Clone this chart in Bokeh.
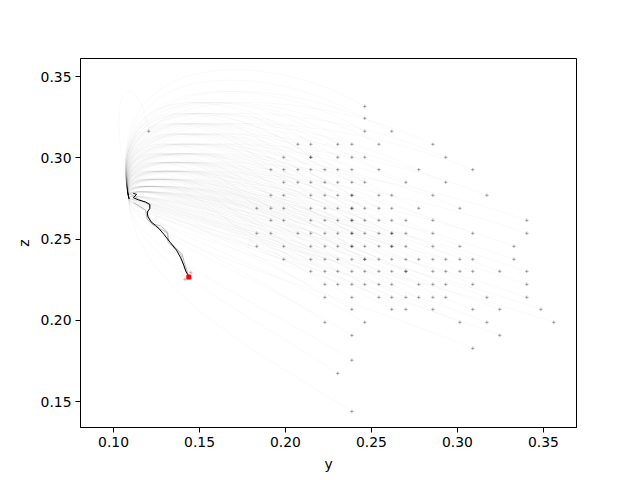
from bokeh.plotting import figure
from bokeh.embed import file_html
from bokeh.resources import INLINE
from bokeh.models import FixedTicker, CustomJSTickFormatter

# grid of start points (column y-values, row z-values)
grid_y = [0.1833, 0.1915, 0.1990, 0.2072, 0.2147, 0.2229, 0.2304, 0.2386, 0.2461,
          0.2543, 0.2618, 0.2700, 0.2775, 0.2857, 0.2932, 0.3014, 0.3089, 0.3171,
          0.3246, 0.3328, 0.3403, 0.3485, 0.3560]
grid_z = [0.3316, 0.3243, 0.3163, 0.3083, 0.3003, 0.2927, 0.2849, 0.2769, 0.2689,
          0.2615, 0.2535, 0.2455, 0.2375, 0.2301, 0.2221, 0.2141, 0.2067, 0.1987,
          0.1907, 0.1827]
row_cols = [
    [8], [8], [8, 10], [3, 4, 6, 7, 9, 13], [2, 4, 4, 6, 7, 8, 14],
    [1, 2, 3, 4, 5, 6, 7, 9, 12, 16], [2, 3, 4, 5, 6, 7, 8, 11, 14],
    [1, 2, 4, 5, 6, 7, 7, 9, 10, 13, 17], [0, 1, 2, 4, 5, 6, 7, 7, 8, 9, 10, 12, 15],
    [1, 2, 4, 5, 6, 7, 7, 8, 9, 10, 11, 13, 20],
    [0, 1, 3, 4, 5, 6, 7, 7, 8, 9, 10, 10, 11, 13, 16, 20],
    [0, 2, 4, 5, 6, 7, 7, 8, 9, 10, 10, 11, 13, 15, 19],
    [2, 4, 5, 6, 7, 8, 8, 9, 10, 11, 12, 13, 14, 15, 16, 19],
    [4, 5, 6, 7, 8, 9, 10, 11, 11, 13, 14, 15, 16, 18, 20],
    [5, 6, 7, 8, 9, 10, 12, 13, 14, 16, 20], [5, 7, 9, 10, 11, 12, 13, 14, 17, 20],
    [7, 10, 11, 13, 16, 18, 21], [5, 8, 15, 17, 22], [7, 18], [16],
]
extra_y = [0.1205, 0.2386, 0.2304, 0.2386]
extra_z = [0.3163, 0.1754, 0.1673, 0.1439]

# converged end of the trajectories
end_y, end_z = 0.1090, 0.2750

# final settled path (black) and two earlier passes (grey)
path_y = [0.1115, 0.1134, 0.1115, 0.1147, 0.1186, 0.1211, 0.1211, 0.1196, 0.1200, 0.1219,
          0.1244, 0.1264, 0.1293, 0.1331, 0.1366, 0.1390, 0.1409, 0.1420, 0.1436]
path_z = [0.2781, 0.2775, 0.2754, 0.2740, 0.2728, 0.2713, 0.2687, 0.2666, 0.2637, 0.2605,
          0.2584, 0.2564, 0.2529, 0.2477, 0.2432, 0.2385, 0.2338, 0.2303, 0.2272]
grey1_y = [0.1118, 0.1186, 0.1196, 0.1234, 0.1312, 0.1322, 0.1351, 0.1399, 0.1409, 0.1428, 0.1436]
grey1_z = [0.2723, 0.2678, 0.2621, 0.2584, 0.2539, 0.2488, 0.2457, 0.2406, 0.2365, 0.2303, 0.2272]
grey2_y = [0.1099, 0.1147, 0.1215, 0.1196, 0.1225, 0.1273, 0.1316, 0.1316, 0.1390, 0.1409, 0.1436]
grey2_z = [0.2777, 0.2746, 0.2705, 0.2654, 0.2592, 0.2582, 0.2541, 0.2480, 0.2408, 0.2330, 0.2272]

final_y, final_z = [0.1438], [0.2266]
near_y = [0.1450, 0.1415]
near_z = [0.2295, 0.2252]

x_ticks = [0.10, 0.15, 0.20, 0.25, 0.30, 0.35]
y_ticks = [0.15, 0.20, 0.25, 0.30, 0.35]

sy, sz = [], []
for r, cols in enumerate(row_cols):
    for c in cols:
        sy.append(grid_y[c])
        sz.append(grid_z[r])
sy += extra_y
sz += extra_z

p = figure(frame_width=496, frame_height=369, x_range=(0.0808, 0.3692), y_range=(0.134, 0.3611),
           output_backend="svg", toolbar_location=None,
           min_border_left=80, min_border_right=56, min_border_top=58, min_border_bottom=45)
p.background_fill_color = "white"
p.border_fill_color = "white"
p.outline_line_color = "black"
p.outline_line_width = 1
p.grid.visible = False

# faint trajectories from each start point to the converged point
x0, y0, x1, y1, cx0, cy0, cx1, cy1 = [], [], [], [], [], [], [], []
for a, b in zip(sy, sz):
    x0.append(a); y0.append(b)
    x1.append(end_y); y1.append(end_z)
    cx0.append(a - 0.4 * (a - end_y)); cy0.append(b + 0.035)
    cx1.append(0.10 + (0.24 - b) * 0.1); cy1.append(end_z + (b - 0.25) * 0.8 + 0.03)
p.bezier(x0=x0, y0=y0, x1=x1, y1=y1, cx0=cx0, cy0=cy0, cx1=cx1, cy1=cy1,
         line_color="black", line_alpha=0.045, line_width=0.6)

p.line(grey1_y, grey1_z, line_color="#999999", line_width=1, line_alpha=0.7)
p.line(grey2_y, grey2_z, line_color="#aaaaaa", line_width=1, line_alpha=0.7)
p.line(path_y, path_z, line_color="black", line_width=1)

p.scatter(sy, sz, marker="cross", size=3.5, line_color="black", line_alpha=0.38, line_width=0.8)
p.scatter(near_y, near_z, marker="cross", size=3.5, line_color="red", line_alpha=0.4, line_width=0.8)
p.scatter(final_y, final_z, marker="square", size=4, fill_color="red", line_color="red")

font = "DejaVu Sans"
for ax in (p.xaxis[0], p.yaxis[0]):
    ax.axis_line_color = "black"
    ax.major_tick_line_color = "black"
    ax.major_tick_out = 5
    ax.major_tick_in = 0
    ax.minor_tick_line_color = None
    ax.major_label_text_font = font
    ax.major_label_text_font_size = "13.9px"
    ax.major_label_text_color = "black"
    ax.axis_label_text_font = font
    ax.axis_label_text_font_size = "13.9px"
    ax.axis_label_text_font_style = "normal"
    ax.axis_label_text_color = "black"
    ax.major_label_standoff = 4
    ax.axis_label_standoff = 6
    ax.formatter = CustomJSTickFormatter(code="return tick.toFixed(2);")
p.xaxis.ticker = FixedTicker(ticks=x_ticks)
p.yaxis.ticker = FixedTicker(ticks=y_ticks)
p.xaxis.axis_label = "y"
p.yaxis.axis_label = "z"

open("out.html", "w").write(file_html(p, INLINE))
